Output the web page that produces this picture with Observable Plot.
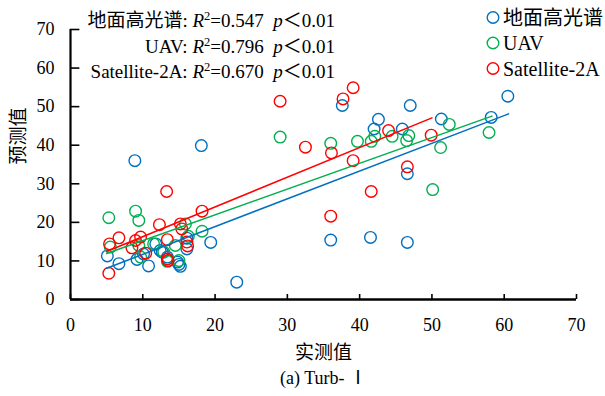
<!DOCTYPE html>
<html>
<head>
<meta charset="utf-8">
<script src="https://cdn.jsdelivr.net/npm/d3@7"></script>
<script src="https://cdn.jsdelivr.net/npm/@observablehq/plot@0.6"></script>
<style>
  body { margin: 0; background: #fff; }
  #chart svg { display: block; }
</style>
</head>
<body>
<div id="chart"></div>
<script>
// Series: measured (x) vs predicted (y) turbidity
const seriesNames = ["地面高光谱", "UAV", "Satellite-2A"];
const seriesColors = ["#0070C0", "#00B050", "#FF0000"];

const groundMeasured  = [60.5, 58.2, 51.3, 47.0, 42.6, 37.6, 42.0, 45.9, 18.1, 8.9, 46.6, 36.0, 41.5, 46.6, 23.0, 19.4, 5.1, 6.7, 9.2, 10.8, 10.1, 12.4, 13.4, 14.8, 15.0, 15.2, 16.1, 16.1, 11.8, 12.7];
const groundPredicted = [52.7, 47.2, 46.8, 50.3, 46.7, 50.3, 44.2, 44.2, 39.9, 36.0, 32.6, 15.4, 16.1, 14.8, 4.5, 14.8, 11.3, 9.3, 10.4, 8.7, 11.8, 12.7, 11.0, 9.7, 9.1, 8.6, 15.9, 13.1, 14.4, 12.3];

const uavMeasured  = [57.9, 52.4, 51.2, 50.1, 29.0, 36.0, 39.7, 41.6, 42.1, 44.5, 46.8, 46.5, 5.3, 9.0, 9.45, 18.2, 15.9, 14.5, 13.4, 5.5, 9.45, 9.7, 11.5, 15.0, 12.9, 16.3];
const uavPredicted = [43.3, 45.4, 39.4, 28.5, 42.1, 40.5, 41.0, 41.0, 42.3, 42.3, 42.5, 41.2, 21.2, 22.9, 20.5, 17.7, 19.6, 14.0, 9.9, 13.6, 14.0, 11.0, 14.4, 10.1, 12.3, 16.4];

const satMeasured  = [39.1, 37.7, 29.0, 32.5, 36.1, 39.1, 44.0, 41.6, 49.9, 46.6, 36.0, 13.3, 18.2, 5.3, 12.3, 6.7, 5.4, 9.0, 9.7, 8.5, 10.4, 15.2, 15.4, 13.4, 16.1, 16.2, 13.4, 13.5];
const satPredicted = [54.9, 52.0, 51.4, 39.5, 38.0, 36.0, 43.8, 28.0, 42.6, 34.4, 21.6, 28.0, 22.9, 6.8, 19.4, 16.0, 14.4, 15.3, 16.2, 13.4, 12.0, 19.6, 18.3, 15.5, 14.9, 13.9, 10.5, 10.1];

// Fit statistics and regression lines
const r2Values = [0.547, 0.796, 0.670];
const pText = "0.01";
const fitSlopes = [0.72, 0.668, 0.77];
const fitIntercepts = [4.5, 8.6, 8.6];
const fitXStart = [5.0, 5.0, 5.0];
const fitXEnd = [60.6, 58.3, 50.0];

// Axes
const xTicks = [0, 10, 20, 30, 40, 50, 60, 70];
const yTicks = [0, 10, 20, 30, 40, 50, 60, 70];
const xTitle = "实测值";
const yTitle = "预测值";
const caption = "(a) Turb- Ⅰ";

const measured = [groundMeasured, uavMeasured, satMeasured];
const predicted = [groundPredicted, uavPredicted, satPredicted];

const points = seriesNames.flatMap((name, i) =>
  measured[i].map((m, j) => ({series: name, measured: m, predicted: predicted[i][j]}))
);
const fits = seriesNames.flatMap((name, i) => [fitXStart[i], fitXEnd[i]].map(x => ({
  series: name, x, y: fitSlopes[i] * x + fitIntercepts[i]
})));

const W = 605, H = 396;
const M = {top: 29, right: 29, bottom: 97, left: 70};
const unitsPerPx = 70 / (H - M.top - M.bottom);
const tickLen = 5 * unitsPerPx;
const font = '"Liberation Serif", "Times New Roman", "Noto Sans CJK SC", serif';
const colorScale = {domain: seriesNames, range: seriesColors};

const plot = Plot.plot({
  width: W,
  height: H,
  marginTop: M.top,
  marginRight: M.right,
  marginBottom: M.bottom,
  marginLeft: M.left,
  style: {fontFamily: font, fontSize: "18px", color: "#000", background: "#fff", overflow: "visible"},
  x: {domain: [0, 70], ticks: xTicks},
  y: {domain: [0, 70], ticks: yTicks},
  color: colorScale,
  marks: [
    Plot.axisX({ticks: xTicks, tickSize: 0, tickPadding: 19, label: null, fontSize: 18}),
    Plot.axisY({ticks: yTicks, tickSize: 0, tickPadding: 16, label: null, fontSize: 18}),
    // inward tick marks
    Plot.ruleX(xTicks, {x: d => d, y1: 0, y2: tickLen, stroke: "#000", strokeWidth: 1.6}),
    Plot.ruleY(yTicks, {y: d => d, x1: 0, x2: tickLen, stroke: "#000", strokeWidth: 1.6}),
    Plot.dot(points, {x: "measured", y: "predicted", stroke: "series", r: 5.8, strokeWidth: 1.4, fill: "none"}),
    Plot.line(fits, {x: "x", y: "y", z: "series", stroke: "series", strokeWidth: 1.5}),
    Plot.ruleY([0], {stroke: "#000", strokeWidth: 2.6}),
    Plot.ruleX([0], {stroke: "#000", strokeWidth: 2.2}),
    Plot.text([xTitle], {frameAnchor: "bottom", dy: 59, fontSize: 19, fill: "#000"}),
    Plot.text([caption], {frameAnchor: "bottom", dy: 84, fontSize: 18, fill: "#000"}),
    Plot.text([yTitle], {frameAnchor: "left", dx: -52, rotate: -90, fontSize: 19, fill: "#000"})
  ]
});

document.getElementById("chart").appendChild(plot);

const svg = d3.select(plot);

// Statistics annotation, right-aligned
const statLines = svg.append("g")
  .attr("font-family", font)
  .attr("font-size", 19)
  .attr("fill", "#000")
  .attr("text-anchor", "end");
seriesNames.forEach((name, i) => {
  const t = statLines.append("text")
    .attr("x", 335)
    .attr("y", 27 + i * 25.5)
    .style("white-space", "pre");
  t.append("tspan").text(name + ": ");
  t.append("tspan").attr("font-style", "italic").text("R");
  t.append("tspan").attr("font-size", 12.5).attr("dy", -7).text("2");
  t.append("tspan").attr("dy", 7).text("=" + r2Values[i].toFixed(3) + "  ");
  t.append("tspan").attr("font-style", "italic").text("p");
  t.append("tspan").text("＜" + pText);
});

// Legend in the upper right
const legend = svg.append("g")
  .attr("font-family", font)
  .attr("font-size", 20)
  .attr("fill", "#000")
  .attr("text-anchor", "start");
seriesNames.forEach((name, i) => {
  const cy = 17.5 + i * 25.5;
  legend.append("circle")
    .attr("cx", 493).attr("cy", cy).attr("r", 5.8)
    .attr("fill", "none").attr("stroke", seriesColors[i]).attr("stroke-width", 1.4);
  legend.append("text")
    .attr("x", 503).attr("y", cy + 7)
    .text(name);
});
</script>
</body>
</html>
